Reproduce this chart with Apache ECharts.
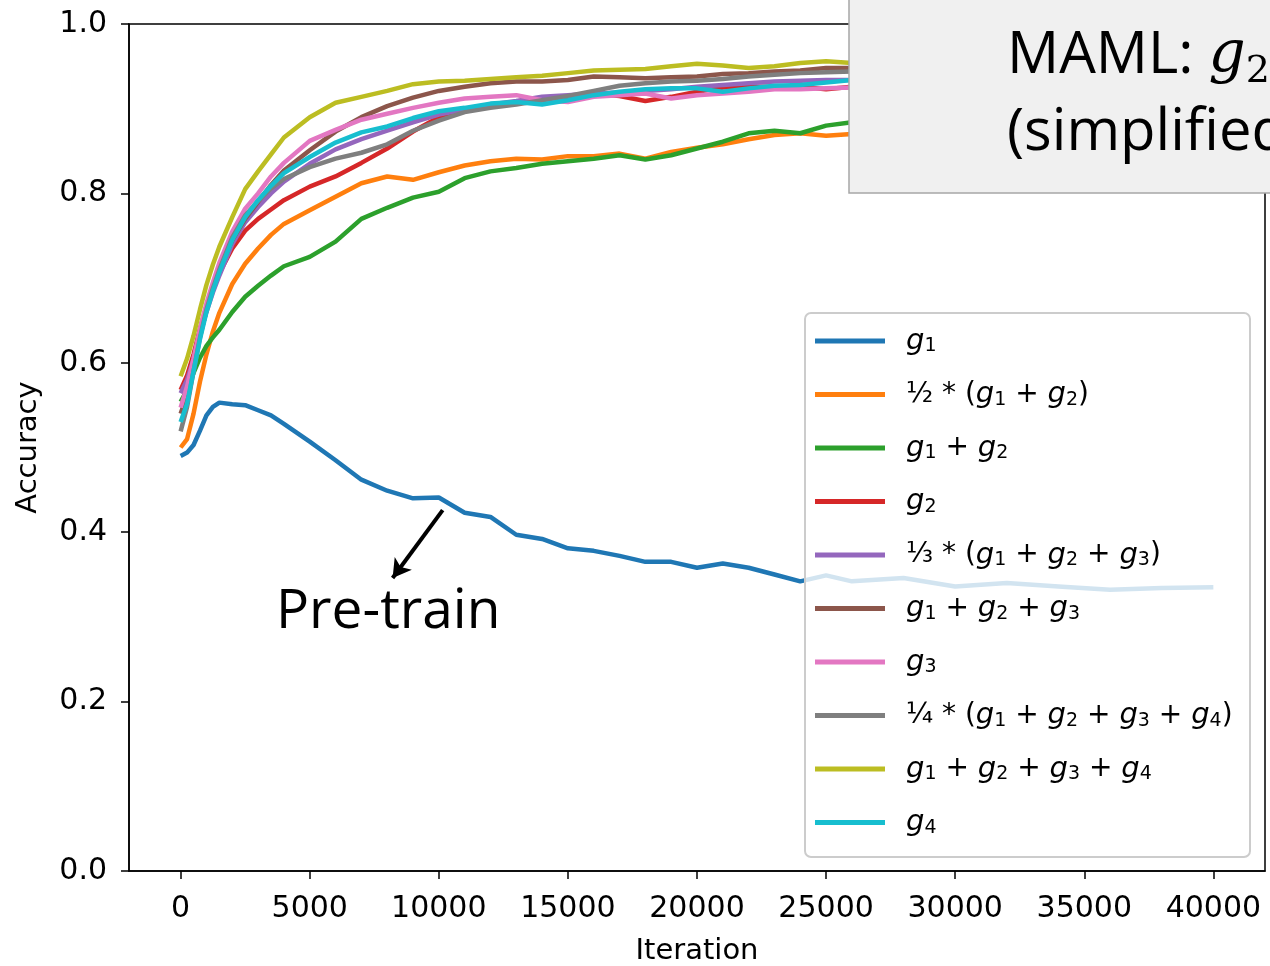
<!DOCTYPE html>
<html>
<head>
<meta charset="utf-8">
<title>Accuracy vs Iteration</title>
<script src="https://cdn.jsdelivr.net/npm/echarts@6/dist/echarts.min.js"></script>
<style>
  html, body { margin: 0; padding: 0; background: #fff; }
  #main { width: 1270px; height: 966px; }
</style>
</head>
<body>
<div id="main"></div>
<script>
// 迭代次数 (x)
var iterations = [0, 250, 500, 750, 1000, 1250, 1500, 2000, 2500, 3000, 3500, 4000,
    5000, 6000, 7000, 8000, 9000, 10000, 11000, 12000, 13000, 14000, 15000, 16000, 17000,
    18000, 19000, 20000, 21000, 22000, 23000, 24000, 25000, 26000,
    28000, 30000, 32000, 34000, 36000, 38000, 40000];

var xTicks = [0, 5000, 10000, 15000, 20000, 25000, 30000, 35000, 40000];

// 各曲线的准确率
var accG1 = [0.490, 0.494, 0.503, 0.520, 0.538, 0.548, 0.553, 0.551, 0.550, 0.544, 0.538, 0.528,
    0.507, 0.485, 0.462, 0.449, 0.440, 0.441, 0.423, 0.418, 0.397, 0.392, 0.381, 0.378, 0.372,
    0.365, 0.365, 0.358, 0.363, 0.358, 0.350, 0.342, 0.349, 0.342,
    0.346, 0.336, 0.340, 0.336, 0.332, 0.334, 0.335];
var accHalf12 = [0.500, 0.510, 0.540, 0.578, 0.610, 0.637, 0.659, 0.693, 0.717, 0.735, 0.751, 0.764,
    0.780, 0.796, 0.812, 0.820, 0.816, 0.825, 0.833, 0.838, 0.841, 0.840, 0.844, 0.844, 0.847,
    0.841, 0.849, 0.854, 0.858, 0.864, 0.869, 0.871, 0.868, 0.870,
    0.872, 0.874, 0.876, 0.877, 0.878, 0.879, 0.880];
var accSum12 = [0.554, 0.568, 0.588, 0.606, 0.620, 0.630, 0.639, 0.660, 0.678, 0.691, 0.703, 0.714,
    0.725, 0.743, 0.770, 0.783, 0.795, 0.802, 0.818, 0.826, 0.830, 0.835, 0.838, 0.841, 0.845,
    0.840, 0.845, 0.853, 0.861, 0.871, 0.874, 0.871, 0.880, 0.884,
    0.886, 0.888, 0.890, 0.891, 0.892, 0.893, 0.894];
var accG2 = [0.568, 0.585, 0.610, 0.640, 0.667, 0.690, 0.706, 0.735, 0.756, 0.770, 0.781, 0.792,
    0.808, 0.820, 0.836, 0.853, 0.873, 0.890, 0.899, 0.903, 0.906, 0.910, 0.914, 0.918, 0.915,
    0.909, 0.914, 0.920, 0.925, 0.926, 0.926, 0.926, 0.923, 0.926,
    0.927, 0.928, 0.929, 0.930, 0.930, 0.931, 0.932];
var accThird123 = [0.564, 0.580, 0.604, 0.634, 0.660, 0.683, 0.703, 0.740, 0.766, 0.784, 0.800, 0.814,
    0.835, 0.852, 0.864, 0.874, 0.884, 0.893, 0.899, 0.905, 0.909, 0.914, 0.916, 0.918, 0.919,
    0.921, 0.923, 0.926, 0.928, 0.930, 0.932, 0.933, 0.934, 0.934,
    0.935, 0.936, 0.937, 0.937, 0.938, 0.938, 0.939];
var accSum123 = [0.540, 0.562, 0.595, 0.632, 0.662, 0.688, 0.710, 0.745, 0.770, 0.790, 0.810, 0.827,
    0.851, 0.873, 0.890, 0.903, 0.913, 0.921, 0.926, 0.930, 0.932, 0.932, 0.934, 0.938, 0.937,
    0.936, 0.937, 0.938, 0.941, 0.942, 0.944, 0.945, 0.948, 0.948,
    0.949, 0.950, 0.951, 0.951, 0.952, 0.952, 0.953];
var accG3 = [0.547, 0.572, 0.605, 0.640, 0.670, 0.695, 0.718, 0.755, 0.782, 0.800, 0.820, 0.836,
    0.862, 0.875, 0.887, 0.894, 0.901, 0.907, 0.912, 0.914, 0.916, 0.910, 0.908, 0.914, 0.916,
    0.918, 0.912, 0.916, 0.918, 0.920, 0.923, 0.923, 0.924, 0.925,
    0.926, 0.927, 0.928, 0.928, 0.929, 0.930, 0.930];
var accQuarter1234 = [0.519, 0.548, 0.590, 0.630, 0.663, 0.688, 0.710, 0.748, 0.774, 0.791, 0.806, 0.817,
    0.831, 0.841, 0.848, 0.858, 0.874, 0.886, 0.896, 0.901, 0.905, 0.910, 0.915, 0.921, 0.927,
    0.930, 0.932, 0.933, 0.935, 0.938, 0.940, 0.942, 0.943, 0.944,
    0.945, 0.946, 0.947, 0.948, 0.948, 0.949, 0.950];
var accSum1234 = [0.584, 0.605, 0.632, 0.663, 0.692, 0.716, 0.737, 0.772, 0.805, 0.826, 0.846, 0.866,
    0.890, 0.907, 0.914, 0.921, 0.929, 0.932, 0.933, 0.935, 0.937, 0.939, 0.942, 0.945, 0.946,
    0.947, 0.950, 0.953, 0.951, 0.948, 0.950, 0.954, 0.956, 0.954,
    0.956, 0.957, 0.958, 0.958, 0.959, 0.960, 0.960];
var accG4 = [0.530, 0.552, 0.590, 0.628, 0.660, 0.685, 0.707, 0.745, 0.772, 0.792, 0.809, 0.824,
    0.843, 0.860, 0.872, 0.879, 0.889, 0.897, 0.901, 0.906, 0.908, 0.905, 0.910, 0.916, 0.920,
    0.923, 0.924, 0.924, 0.920, 0.924, 0.927, 0.928, 0.931, 0.934,
    0.935, 0.936, 0.937, 0.938, 0.938, 0.939, 0.940];

var seriesNames = ['g1', '1/2*(g1+g2)', 'g1+g2', 'g2', '1/3*(g1+g2+g3)', 'g1+g2+g3', 'g3',
    '1/4*(g1+g2+g3+g4)', 'g1+g2+g3+g4', 'g4'];
var seriesValues = [accG1, accHalf12, accSum12, accG2, accThird123, accSum123, accG3,
    accQuarter1234, accSum1234, accG4];
var colors = ['#1f77b4', '#ff7f0e', '#2ca02c', '#d62728', '#9467bd', '#8c564b', '#e377c2',
    '#7f7f7f', '#bcbd22', '#17becf'];

// 图例里的公式 (富文本)
var legendLabels = {
    'g1': '{g|g}{s|1}',
    '1/2*(g1+g2)': '{o|½ * (}{g|g}{s|1}{o| + }{g|g}{s|2}{o|)}',
    'g1+g2': '{g|g}{s|1}{o| + }{g|g}{s|2}',
    'g2': '{g|g}{s|2}',
    '1/3*(g1+g2+g3)': '{o|⅓ * (}{g|g}{s|1}{o| + }{g|g}{s|2}{o| + }{g|g}{s|3}{o|)}',
    'g1+g2+g3': '{g|g}{s|1}{o| + }{g|g}{s|2}{o| + }{g|g}{s|3}',
    'g3': '{g|g}{s|3}',
    '1/4*(g1+g2+g3+g4)': '{o|¼ * (}{g|g}{s|1}{o| + }{g|g}{s|2}{o| + }{g|g}{s|3}{o| + }{g|g}{s|4}{o|)}',
    'g1+g2+g3+g4': '{g|g}{s|1}{o| + }{g|g}{s|2}{o| + }{g|g}{s|3}{o| + }{g|g}{s|4}',
    'g4': '{g|g}{s|4}'
};

var myChart = echarts.init(document.getElementById('main'));

var series = seriesNames.map(function (name, k) {
    var s = {
        name: name,
        type: 'line',
        symbol: 'none',
        showSymbol: false,
        silent: true,
        color: colors[k],
        lineStyle: { color: colors[k], width: 4.5 },
        emphasis: { disabled: true },
        data: iterations.map(function (it, i) { return [it, seriesValues[k][i]]; })
    };
    if (k === 0) {
        // Pre-train 箭头
        s.markLine = {
            silent: true,
            symbol: ['none', 'arrow'],
            symbolSize: [16, 18],
            label: { show: false },
            lineStyle: { color: '#000', width: 4, type: 'solid' },
            emphasis: { disabled: true },
            data: [[{ coord: [10150, 0.426] }, { coord: [8210, 0.346] }]]
        };
    }
    return s;
});

var option = {
    animation: false,
    backgroundColor: '#fff',
    grid: {
        left: 129, right: 5, top: 24, bottom: 95,
        outerBoundsMode: 'none',
        containLabel: false,
        show: true, borderColor: '#000', borderWidth: 1.5, backgroundColor: 'transparent'
    },
    xAxis: {
        type: 'value',
        min: -2000,
        max: 42000,
        name: 'Iteration',
        nameLocation: 'middle',
        nameGap: 66,
        nameTextStyle: { fontFamily: 'DejaVu Sans', fontSize: 29, color: '#000' },
        axisLine: { show: true, onZero: false, lineStyle: { color: '#000', width: 1.5 } },
        axisTick: { show: true, length: 8, customValues: xTicks, lineStyle: { color: '#000', width: 1.5 } },
        axisLabel: {
            customValues: xTicks, margin: 23, fontFamily: 'DejaVu Sans', fontSize: 30, color: '#000',
            formatter: function (v) { return String(v); }
        },
        splitLine: { show: false }
    },
    yAxis: {
        type: 'value',
        min: 0,
        max: 1,
        interval: 0.2,
        name: 'Accuracy',
        nameLocation: 'middle',
        nameGap: 86,
        nameTextStyle: { fontFamily: 'DejaVu Sans', fontSize: 29, color: '#000' },
        axisLine: { show: true, onZero: false, lineStyle: { color: '#000', width: 1.5 } },
        axisTick: { show: true, length: 8, lineStyle: { color: '#000', width: 1.5 } },
        axisLabel: {
            margin: 22, fontFamily: 'DejaVu Sans', fontSize: 30, color: '#000',
            formatter: function (v) { return v.toFixed(1); }
        },
        splitLine: { show: false }
    },
    legend: {
        orient: 'vertical',
        left: 815,
        top: 326,
        padding: 0,
        z: 20,
        icon: 'rect',
        itemWidth: 70,
        itemHeight: 5,
        itemGap: 23.5,
        selectedMode: false,
        data: seriesNames,
        formatter: function (name) { return legendLabels[name]; },
        textStyle: {
            color: '#000',
            fontFamily: 'DejaVu Sans',
            fontSize: 28,
            lineHeight: 30,
            padding: [0, 0, 0, 16],
            rich: {
                g: { fontFamily: 'DejaVu Sans', fontStyle: 'italic', fontSize: 29, lineHeight: 30, color: '#000' },
                s: { fontFamily: 'DejaVu Sans', fontSize: 19, lineHeight: 22, verticalAlign: 'bottom', color: '#000' },
                o: { fontFamily: 'DejaVu Sans', fontSize: 28, lineHeight: 30, color: '#000' }
            }
        }
    },
    graphic: [
        {
            // 图例底框 (半透明)
            type: 'rect', z: 10, silent: true,
            shape: { x: 805, y: 313, width: 445, height: 544, r: 6 },
            style: { fill: 'rgba(255,255,255,0.8)', stroke: '#cccccc', lineWidth: 2 }
        },
        {
            type: 'rect', z: 100, silent: true,
            shape: { x: 849, y: -5, width: 430, height: 198 },
            style: { fill: '#f0f0f0', stroke: '#a6a6a6', lineWidth: 1.5 }
        },
        {
            type: 'text', z: 101, silent: true, x: 1007, y: 56,
            style: {
                text: '{a|MAML: }{g|g}{s|2}',
                verticalAlign: 'middle',
                rich: {
                    a: { fontFamily: 'Open Sans', fontSize: 58, fill: '#000', lineHeight: 70 },
                    g: { fontFamily: 'DejaVu Serif', fontStyle: 'italic', fontSize: 58, fill: '#000', lineHeight: 70 },
                    s: { fontFamily: 'DejaVu Serif', fontSize: 38, fill: '#000', lineHeight: 50, verticalAlign: 'bottom' }
                }
            }
        },
        {
            type: 'text', z: 101, silent: true, x: 1007, y: 133,
            style: { text: '(simplified)', fontFamily: 'Open Sans', fontSize: 58, fill: '#000', verticalAlign: 'middle' }
        },
        {
            type: 'text', z: 10, silent: true, x: 276, y: 612,
            style: { text: 'Pre-train', fontFamily: 'Open Sans', fontSize: 55, fill: '#000', verticalAlign: 'middle' }
        }
    ],
    series: series
};

myChart.setOption(option);

window.addEventListener('resize', function () {
    myChart.resize();
});
</script>
</body>
</html>
